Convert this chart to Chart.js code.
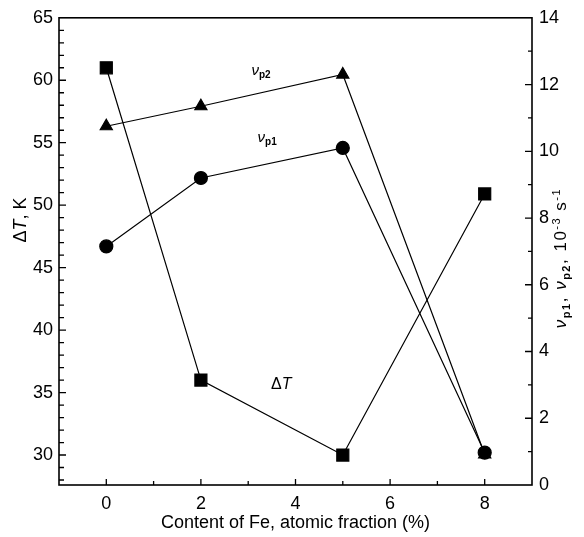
<!DOCTYPE html>
<html>
<head>
<meta charset="utf-8">
<script src="https://cdn.jsdelivr.net/npm/chart.js@4.4.1/dist/chart.umd.min.js"></script>
<style>
  html, body { margin: 0; padding: 0; background: #fff; }
  #container { width: 584px; height: 537px; }
</style>
</head>
<body>
<div id="container"><canvas id="myChart" width="584" height="537"></canvas></div>
<script>
// data
const feContent = [0, 2, 5, 8];
const deltaT = [61.0, 36.0, 30.0, 50.9];
const vp1 = [7.15, 9.2, 10.1, 0.97];
const vp2 = [10.75, 11.35, 12.3, 0.92];

const xTicks = [0, 2, 4, 6, 8];
const leftTicks = [30, 35, 40, 45, 50, 55, 60, 65];
const rightTicks = [0, 2, 4, 6, 8, 10, 12, 14];

const FONT = '"Liberation Sans", Arial, sans-serif';

// draws a run of text pieces (normal / italic / sub / sup) centred on a point
const drawRich = (ctx, parts, x, y, rot, spacing) => {
    ctx.save();
    ctx.translate(x, y);
    ctx.rotate(rot);
    ctx.fillStyle = '#000';
    ctx.textBaseline = 'alphabetic';
    const gap = spacing || 0;
    let total = 0;
    parts.forEach(p => { ctx.font = p.font; p.w = ctx.measureText(p.t).width + gap * p.t.length; total += p.w; });
    let cx = -total / 2;
    parts.forEach(p => {
        ctx.font = p.font;
        for (const ch of p.t) {
            ctx.fillText(ch, cx, p.dy || 0);
            cx += ctx.measureText(ch).width + gap;
        }
    });
    ctx.restore();
};

const decorations = {
    id: 'decorations',
    afterDraw(chart) {
        const { ctx, chartArea: a, scales } = chart;
        ctx.save();
        ctx.strokeStyle = '#000';

        //marco
        ctx.lineWidth = 1.6;
        ctx.strokeRect(a.left, a.top, a.right - a.left, a.bottom - a.top);

        //ticks hacia adentro
        ctx.lineWidth = 1.3;
        ctx.beginPath();
        for (let v = 0; v <= 8; v++) {
            const px = scales.x.getPixelForValue(v);
            const len = v % 2 === 0 ? 6 : 4;
            ctx.moveTo(px, a.bottom);
            ctx.lineTo(px, a.bottom - len);
        }
        for (let v = 28; v < 65; v++) {
            const py = scales.y.getPixelForValue(v);
            const len = v % 5 === 0 ? 7 : 5;
            ctx.moveTo(a.left, py);
            ctx.lineTo(a.left + len, py);
        }
        for (let v = 1; v < 14; v++) {
            const py = scales.y1.getPixelForValue(v);
            const len = v % 2 === 0 ? 7 : 4;
            ctx.moveTo(a.right, py);
            ctx.lineTo(a.right - len, py);
        }
        ctx.stroke();
        ctx.restore();

        //titulos de los ejes
        const n = 18;
        drawRich(ctx, [
            { t: 'Δ', font: `${n}px ${FONT}` },
            { t: 'T', font: `italic ${n}px ${FONT}` },
            { t: ', K', font: `${n}px ${FONT}` }
        ], 26, 220, -Math.PI / 2);

        const m = 17, s = 11;
        drawRich(ctx, [
            { t: 'ν', font: `italic ${m}px ${FONT}` },
            { t: 'p1', font: `bold ${s}px ${FONT}`, dy: 4 },
            { t: ', ', font: `${m}px ${FONT}` },
            { t: 'ν', font: `italic ${m}px ${FONT}` },
            { t: 'p2', font: `bold ${s}px ${FONT}`, dy: 4 },
            { t: ', 10', font: `${m}px ${FONT}` },
            { t: '-3', font: `${s}px ${FONT}`, dy: -6 },
            { t: ' s', font: `${m}px ${FONT}` },
            { t: '-1', font: `${s}px ${FONT}`, dy: -6 }
        ], 566, 258, -Math.PI / 2, 1.5);

        //etiquetas de las series, en coordenadas de datos
        const lab = (x, yv, scale) => [scales.x.getPixelForValue(x), scales[scale].getPixelForValue(yv)];
        let [px, py] = lab(3.27, 12.44, 'y1');
        drawRich(ctx, [
            { t: 'ν', font: `italic 15px ${FONT}` },
            { t: 'p2', font: `bold 10px ${FONT}`, dy: 3 }
        ], px, py + 5, 0);
        [px, py] = lab(3.4, 10.42, 'y1');
        drawRich(ctx, [
            { t: 'ν', font: `italic 15px ${FONT}` },
            { t: 'p1', font: `bold 10px ${FONT}`, dy: 3 }
        ], px, py + 5, 0);
        [px, py] = lab(3.7, 35.76, 'y');
        drawRich(ctx, [
            { t: 'Δ', font: `16px ${FONT}` },
            { t: 'T', font: `italic 16px ${FONT}` }
        ], px, py + 6, 0);
    }
};

const tickFont = { family: FONT, size: 18 };

new Chart(document.getElementById('myChart'), {
    type: 'line',
    data: {
        labels: feContent,
        datasets: [{
            label: 'ΔT',
            data: feContent.map((x, i) => ({ x: x, y: deltaT[i] })),
            yAxisID: 'y',
            borderColor: '#000',
            backgroundColor: '#000',
            borderWidth: 1.2,
            pointStyle: 'rect',
            pointRadius: 8.5,
            pointHoverRadius: 8.5
        }, {
            label: 'vp1',
            data: feContent.map((x, i) => ({ x: x, y: vp1[i] })),
            yAxisID: 'y1',
            borderColor: '#000',
            backgroundColor: '#000',
            borderWidth: 1.2,
            pointStyle: 'circle',
            pointRadius: 6.5,
            pointHoverRadius: 6.5
        }, {
            label: 'vp2',
            data: feContent.map((x, i) => ({ x: x, y: vp2[i] })),
            yAxisID: 'y1',
            borderColor: '#000',
            backgroundColor: '#000',
            borderWidth: 1.2,
            pointStyle: 'triangle',
            pointRadius: 7,
            pointHoverRadius: 7
        }]
    },
    options: {
        responsive: false,
        animation: false,
        layout: { padding: { top: 15, left: 0, right: 0, bottom: 0 } },
        plugins: { legend: { display: false }, tooltip: { enabled: false } },
        scales: {
            x: {
                type: 'linear',
                min: -1,
                max: 9,
                afterBuildTicks: s => { s.ticks = xTicks.map(v => ({ value: v })); },
                afterFit: s => { s.height = 537 - 485; },
                grid: { display: false, drawTicks: false },
                border: { display: false },
                ticks: { color: '#000', font: tickFont, padding: 8, maxRotation: 0 },
                title: {
                    display: true,
                    text: 'Content of Fe, atomic fraction (%)',
                    color: '#000',
                    font: { family: FONT, size: 18 },
                    padding: { top: 0, bottom: 3 }
                }
            },
            y: {
                position: 'left',
                min: 27.6,
                max: 65,
                afterBuildTicks: s => { s.ticks = leftTicks.map(v => ({ value: v })); },
                afterFit: s => { s.width = 59; },
                grid: { display: false, drawTicks: false },
                border: { display: false },
                ticks: { color: '#000', font: tickFont, padding: 6 }
            },
            y1: {
                position: 'right',
                min: 0,
                max: 14,
                afterBuildTicks: s => { s.ticks = rightTicks.map(v => ({ value: v })); },
                afterFit: s => { s.width = 584 - 532; },
                grid: { display: false, drawTicks: false },
                border: { display: false },
                ticks: { color: '#000', font: tickFont, padding: 7 }
            }
        }
    },
    plugins: [decorations]
});
</script>
</body>
</html>
